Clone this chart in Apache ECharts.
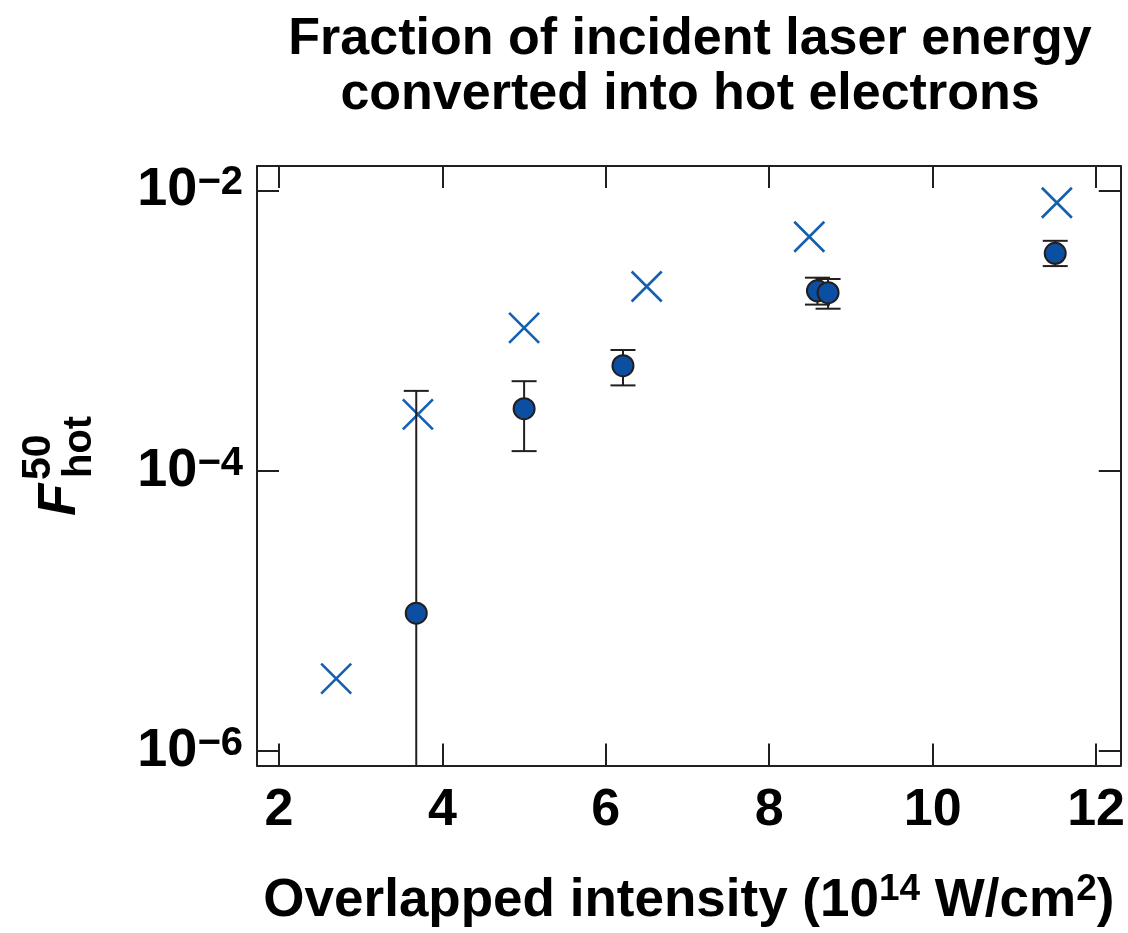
<!DOCTYPE html>
<html>
<head>
<meta charset="utf-8">
<script src="https://cdn.jsdelivr.net/npm/echarts@6/dist/echarts.min.js"></script>
<style>
  html, body { margin: 0; padding: 0; background: #ffffff; }
  #chart { width: 1128px; height: 933px; }
</style>
</head>
<body>
<div id="chart"></div>
<script>
// Peak-intensity scan: hot-electron fraction (circles, with error bars) and the ×-marked values
const crossX = [2.70, 3.70, 5.00, 6.50, 8.49, 11.52];
const crossY = [3.29e-6, 2.52e-4, 1.045e-3, 2.06e-3, 4.66e-3, 8.15e-3];

const circleX = [3.68, 5.00, 6.21, 8.59, 8.72, 11.50];
const circleY = [9.64e-6, 2.77e-4, 5.61e-4, 1.92e-3, 1.86e-3, 3.55e-3];
// lower / upper ends of the error bars (null: bar runs off the bottom of the plot)
const errLow  = [null, 1.38e-4, 4.06e-4, 1.53e-3, 1.43e-3, 2.88e-3];
const errHigh = [3.71e-4, 4.35e-4, 7.26e-4, 2.38e-3, 2.33e-3, 4.36e-3];

// axis ranges and tick positions
const xRange = [1.731, 12.302];
const xTicks = [2, 4, 6, 8, 10, 12];
const yRangeExp = [-6.102, -1.827];
const yTickExp = [-6, -4, -2];

const FONT = '"Liberation Sans", Arial, Helvetica, sans-serif';
const INK = '#231f20';
const DOT_BLUE = '#0b4fa2';
const CROSS_BLUE = '#135fb0';

const yMin = Math.pow(10, yRangeExp[0]);
const yMax = Math.pow(10, yRangeExp[1]);
const yTickValues = yTickExp.map(e => Math.pow(10, e));

function frameLine() { return { show: true, onZero: false, lineStyle: { color: INK, width: 2 } }; }
function frameTicks(values) {
  return { show: true, inside: true, length: 22, customValues: values, lineStyle: { color: INK, width: 2 } };
}

function powerLabel(v) {
  const e = Math.round(Math.log10(v));
  return '{b|10}{s|' + (e < 0 ? '\u2212' : '') + Math.abs(e) + '}';
}

function xAxisDef(position, withLabels) {
  const ax = {
    type: 'value', position: position, min: xRange[0], max: xRange[1],
    splitLine: { show: false },
    axisLine: frameLine(),
    axisTick: frameTicks(xTicks),
    axisLabel: { show: false }
  };
  if (withLabels) {
    ax.axisLabel = {
      show: true, customValues: xTicks, margin: 19,
      fontSize: 52, fontWeight: 'bold', fontFamily: FONT, color: '#000'
    };
    ax.name = '{a|Overlapped intensity (10}{s|14}{a| W/cm}{s|2}{a|)}';
    ax.nameLocation = 'middle';
    ax.nameGap = 106;
    ax.nameTextStyle = {
      fontSize: 53, fontWeight: 'bold', fontFamily: FONT, color: '#000',
      rich: {
        a: { fontSize: 53, fontWeight: 'bold', fontFamily: FONT, color: '#000', lineHeight: 60 },
        s: { fontSize: 37, fontWeight: 'bold', fontFamily: FONT, color: '#000', lineHeight: 32, verticalAlign: 'top' }
      }
    };
  }
  return ax;
}

function yAxisDef(position, withLabels) {
  const ax = {
    type: 'log', logBase: 10, position: position, min: yMin, max: yMax,
    splitLine: { show: false },
    minorTick: { show: false },
    axisLine: frameLine(),
    axisTick: frameTicks(yTickValues),
    axisLabel: { show: false }
  };
  if (withLabels) {
    ax.axisLabel = {
      show: true, customValues: yTickValues, margin: 14,
      formatter: powerLabel,
      rich: {
        b: { fontSize: 54, fontWeight: 'bold', fontFamily: FONT, color: '#000', lineHeight: 54 },
        s: { fontSize: 40, fontWeight: 'bold', fontFamily: FONT, color: '#000', lineHeight: 26, verticalAlign: 'top' }
      }
    };
  }
  return ax;
}

function renderErrorBar(params, api) {
  const x = api.value(0);
  const lo = api.value(1);
  const hi = api.value(2);
  const cs = params.coordSys;
  const top = api.coord([x, hi]);
  const hasLow = isFinite(lo) && lo > 0;
  const yBottom = hasLow ? api.coord([x, lo])[1] : cs.y + cs.height;
  const half = 12.5;
  const style = { stroke: INK, lineWidth: 2, fill: null };
  const children = [
    { type: 'line', shape: { x1: top[0], y1: top[1], x2: top[0], y2: yBottom }, style: style },
    { type: 'line', shape: { x1: top[0] - half, y1: top[1], x2: top[0] + half, y2: top[1] }, style: style }
  ];
  if (hasLow) {
    children.push({ type: 'line', shape: { x1: top[0] - half, y1: yBottom, x2: top[0] + half, y2: yBottom }, style: style });
  }
  return { type: 'group', children: children };
}

const chart = echarts.init(document.getElementById('chart'));

chart.setOption({
  backgroundColor: '#ffffff',
  animation: false,
  title: {
    text: 'Fraction of incident laser energy\nconverted into hot electrons',
    left: 690,
    top: 12,
    padding: 0,
    textAlign: 'center',
    textStyle: { fontSize: 52, fontWeight: 'bold', fontFamily: FONT, color: '#000', lineHeight: 55 }
  },
  grid: { left: 257, top: 166, width: 865, height: 601 },
  xAxis: [xAxisDef('bottom', true), xAxisDef('top', false)],
  yAxis: [yAxisDef('left', true), yAxisDef('right', false)],
  graphic: [{
    type: 'group',
    x: 0, y: 516, rotation: Math.PI / 2,
    children: [
      { type: 'text', x: 0, y: 60, style: { text: 'F', fontSize: 53, fontStyle: 'italic', fontWeight: 'bold', fontFamily: FONT, fill: '#000', verticalAlign: 'middle', align: 'left' } },
      { type: 'text', x: 36, y: 39, style: { text: '50', fontSize: 41, fontWeight: 'bold', fontFamily: FONT, fill: '#000', verticalAlign: 'middle', align: 'left' } },
      { type: 'text', x: 38, y: 80, style: { text: 'hot', fontSize: 40, fontWeight: 'bold', fontFamily: FONT, fill: '#000', verticalAlign: 'middle', align: 'left' } }
    ]
  }],
  series: [
    {
      type: 'custom',
      name: 'error',
      xAxisIndex: 0, yAxisIndex: 0,
      renderItem: renderErrorBar,
      encode: { x: 0, y: 2 },
      data: circleX.map((x, i) => [x, errLow[i] == null ? '-' : errLow[i], errHigh[i]]),
      z: 2, silent: true
    },
    {
      type: 'scatter',
      name: 'measured',
      xAxisIndex: 0, yAxisIndex: 0,
      data: circleX.map((x, i) => [x, circleY[i]]),
      symbol: 'circle', symbolSize: 21,
      itemStyle: { color: DOT_BLUE, borderColor: INK, borderWidth: 2, opacity: 1 },
      emphasis: { disabled: true },
      z: 3, silent: true
    },
    {
      type: 'scatter',
      name: 'crosses',
      xAxisIndex: 0, yAxisIndex: 0,
      data: crossX.map((x, i) => [x, crossY[i]]),
      symbol: 'path://M0,0L20,20M20,0L0,20', symbolSize: 30,
      itemStyle: { color: 'rgba(0,0,0,0)', borderColor: CROSS_BLUE, borderWidth: 2.6, opacity: 1 },
      emphasis: { disabled: true },
      z: 1, silent: true
    }
  ]
});
</script>
</body>
</html>
